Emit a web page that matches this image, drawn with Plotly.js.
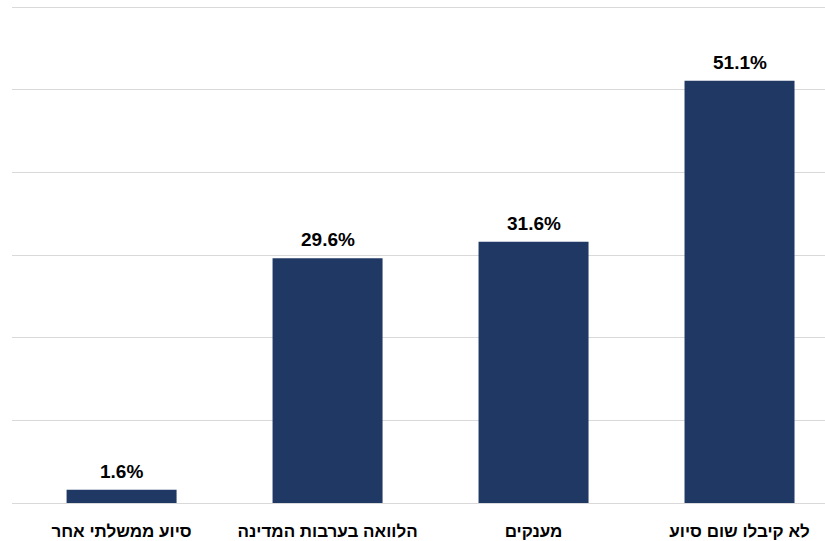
<!DOCTYPE html>
<html>
<head>
<meta charset="utf-8">
<script src="https://cdn.plot.ly/plotly-3.0.1.min.js"></script>
<style>html,body{margin:0;padding:0;background:#fff;}#chart{width:825px;height:541px;}</style>
</head>
<body>
<div id="chart"></div>
<script>
const categories = ['סיוע ממשלתי אחר', 'הלוואה בערבות המדינה', 'מענקים', 'לא קיבלו שום סיוע'];
const values = [1.6, 29.6, 31.6, 51.1];
const valueLabels = ['1.6%', '29.6%', '31.6%', '51.1%'];

const trace = {
  type: 'bar',
  x: categories,
  y: values,
  marker: {color: '#203864'},
  hoverinfo: 'none'
};

const annotations = categories.map(function(c, i){
  return {
    x: c, y: values[i], xref: 'x', yref: 'y',
    text: '<b>' + valueLabels[i] + '</b>',
    showarrow: false, yanchor: 'bottom', yshift: 6,
    font: {family: 'Liberation Sans, Arial, sans-serif', size: 19, color: '#000'}
  };
});

const layout = {
  width: 825, height: 541,
  margin: {l: 12, r: 0, t: 3, b: 38},
  paper_bgcolor: '#fff', plot_bgcolor: '#fff',
  showlegend: false,
  bargap: 0.466,
  annotations: annotations,
  xaxis: {
    type: 'category',
    range: [-0.532, 3.415],
    showgrid: false, zeroline: false, showline: false,
    ticks: '',
    tickfont: {family: 'Liberation Sans, Arial, sans-serif', size: 17, color: '#000', weight: 'bold'},
    ticklabelstandoff: 16
  },
  yaxis: {
    range: [0, 60.5],
    dtick: 10,
    showgrid: true, gridcolor: '#d9d9d9', gridwidth: 1,
    zeroline: true, zerolinecolor: '#d9d9d9', zerolinewidth: 1,
    showticklabels: false, ticks: '', showline: false
  }
};

Plotly.newPlot('chart', [trace], layout, {displayModeBar: false, staticPlot: true});
</script>
</body>
</html>
